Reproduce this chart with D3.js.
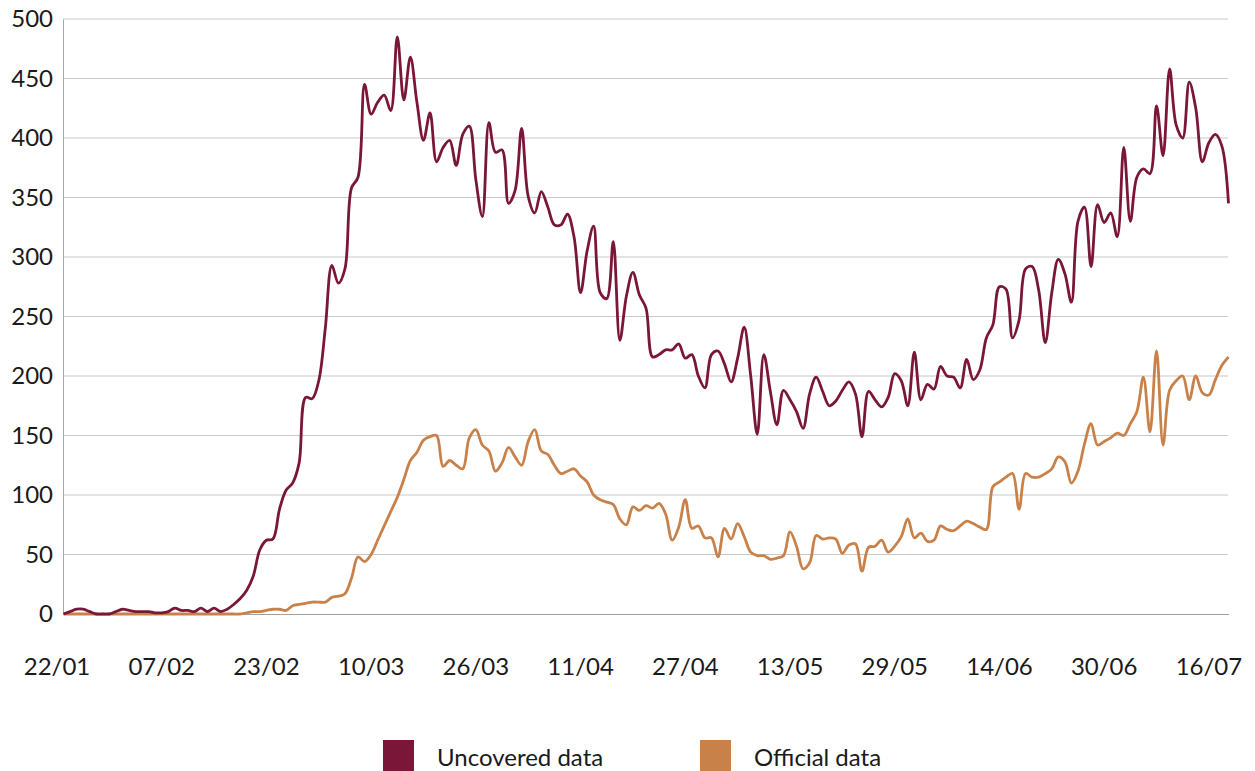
<!DOCTYPE html>
<html><head><meta charset="utf-8">
<script src="https://cdn.jsdelivr.net/npm/d3@7"></script>
<style>
body{margin:0;background:#fff}
svg{display:block}
text{font-family:Lato,"Open Sans",sans-serif;fill:#1a1a1a}
</style>
</head><body>
<svg id="chart" width="1255" height="771"></svg>
<script>
const startDate = "22/01/2020";
const tickLabels = ["22/01","07/02","23/02","10/03","26/03","11/04","27/04","13/05","29/05","14/06","30/06","16/07"];
const yTicks = [0,50,100,150,200,250,300,350,400,450,500];
const seriesNames = ["Uncovered data","Official data"];
const seriesColors = ["#7a1638","#c9814a"];

const uncovered = [
0,2,4,4,2,0,0,0,2,4,
3,2,2,2,1,1,2,5,3,3,
2,5,2,5,2,4,8,13,20,32,
54,62,63,88,104,110,127,182,181,196,
240,293,278,290,358,367,445,420,430,436,
423,485,432,468,430,398,421,380,392,398,
377,403,410,365,334,413,388,390,345,356,
408,351,337,355,342,327,327,336,317,270,
305,326,270,265,313,230,267,287,268,257,
216,218,222,222,227,215,218,200,190,218,
221,210,195,215,241,200,151,218,187,159,
188,180,170,156,185,199,187,175,179,188,
195,185,149,187,180,174,182,202,196,175,
220,180,193,189,208,200,199,190,214,197,
205,232,243,275,273,232,247,290,292,272,
228,270,298,286,262,330,342,292,344,329,
337,317,392,330,367,374,370,427,385,458,
411,400,447,425,380,396,403,393,345
];

const official = [
0,0,0,0,0,0,0,0,0,0,
0,0,0,0,0,0,0,0,0,0,
0,0,0,0,0,0,0,0,1,2,
2,3,4,4,3,7,8,9,10,10,
10,14,15,17,30,48,44,50,62,74,
86,98,113,129,136,146,149,150,124,129,
125,122,148,155,142,137,120,127,140,132,
125,145,155,137,134,125,118,120,122,116,
111,100,96,94,92,80,75,90,87,91,
89,93,84,62,73,96,72,74,64,64,
48,72,63,76,65,52,49,49,46,47,
49,69,57,38,43,66,63,64,63,51,
58,59,36,56,57,62,52,57,65,80,
64,68,61,62,74,71,70,74,78,76,
73,71,107,111,115,118,88,118,115,115,
118,122,132,128,110,120,143,160,142,145,
148,152,150,160,170,199,153,221,142,188,
196,200,180,200,186,184,197,209,216
];

const parse = d3.timeParse("%d/%m/%Y");
const t0 = parse(startDate);
const dates = uncovered.map((_, i) => d3.timeDay.offset(t0, i));
const tickDates = tickLabels.map(l => parse(l + "/2020"));

const svg = d3.select("#chart");
const x = d3.scaleTime().domain([t0, dates[dates.length - 1]]).range([63.5, 1228.5]);
const y = d3.scaleLinear().domain([0, 500]).range([614, 19]);

// gridlines
svg.append("g").selectAll("line").data(yTicks.filter(v => v > 0)).join("line")
  .attr("x1", 63).attr("x2", 1228)
  .attr("y1", d => y(d)).attr("y2", d => y(d))
  .attr("stroke", "#c9c9c9").attr("stroke-width", 1);

// y axis
const yAxis = svg.append("g").attr("transform", "translate(63,0)")
  .call(d3.axisLeft(y).tickValues(yTicks).tickSize(0).tickPadding(10));
yAxis.select(".domain").attr("stroke", "#a8a8a8");
yAxis.selectAll("text").style("font-size", "24px").attr("fill", "#1a1a1a");

// x axis
const xAxis = svg.append("g").attr("transform", `translate(0,${y(0)})`)
  .call(d3.axisBottom(x).tickValues(tickDates).tickFormat((d, i) => tickLabels[i]).tickSize(0).tickPadding(44));
xAxis.select(".domain").attr("stroke", "#a0a0a0");
xAxis.selectAll("text").style("font-size", "24px").attr("fill", "#1a1a1a").attr("dx", -7);

// lines
const line = d3.line().x((d, i) => x(dates[i])).y(d => y(d)).curve(d3.curveCatmullRom.alpha(0.5));
[[official, 1], [uncovered, 0]].forEach(([s, idx]) => {
  svg.append("path").datum(s).attr("d", line)
    .attr("fill", "none").attr("stroke", seriesColors[idx])
    .attr("stroke-width", 2.8).attr("stroke-linejoin", "round");
});

// legend
const legendX = [383, 700];
const lg = svg.append("g");
seriesNames.forEach((n, i) => {
  lg.append("rect").attr("x", legendX[i]).attr("y", 740).attr("width", 31).attr("height", 31).attr("fill", seriesColors[i]);
  lg.append("text").attr("x", legendX[i] + 54).attr("y", 766).style("font-size", "24px").text(n);
});
</script>
</body></html>
